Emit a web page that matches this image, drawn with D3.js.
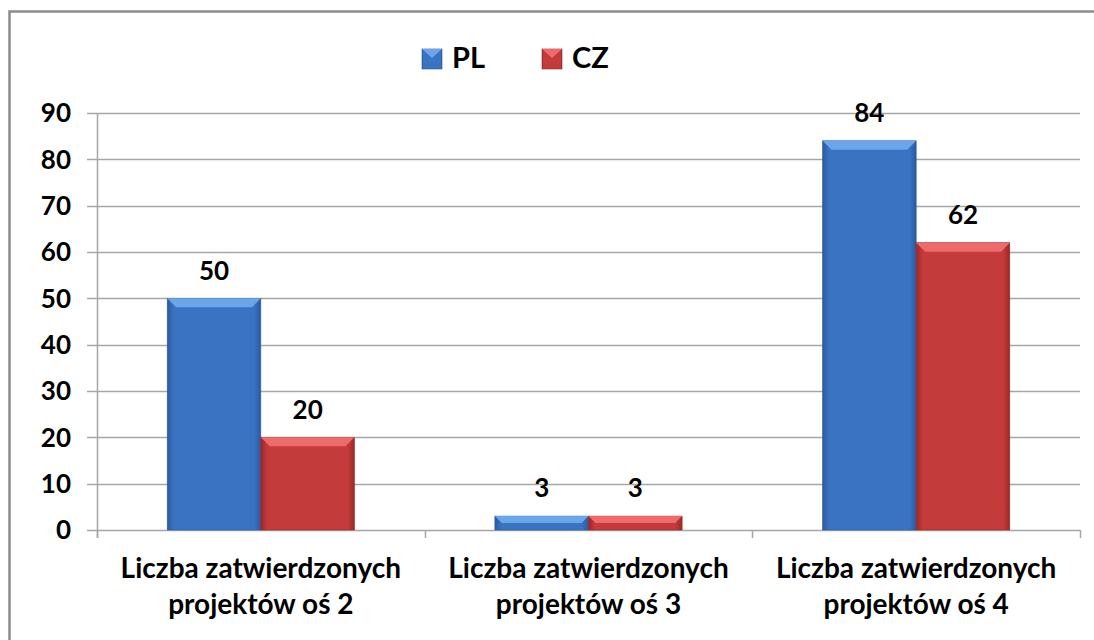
<!DOCTYPE html>
<html><head><meta charset="utf-8">
<script src="https://cdn.jsdelivr.net/npm/d3@7"></script>
<style>html,body{margin:0;background:#fff;overflow:hidden;} svg{display:block;} text{font-family:Lato,"Open Sans",sans-serif;font-weight:bold;}</style>
</head><body>
<svg id="c" width="1094" height="640"></svg>
<script>
const categories = [["Liczba zatwierdzonych","projektów oś 2"],["Liczba zatwierdzonych","projektów oś 3"],["Liczba zatwierdzonych","projektów oś 4"]];
const seriesNames = ["PL","CZ"];
const plValues = [50,3,84];
const czValues = [20,3,62];
const yTicks = [0,10,20,30,40,50,60,70,80,90];
const colors = {PL:["#6aa6ea","#3a73c1","#2a5a9e"], CZ:["#ef6a6a","#c43b3c","#9a2828"]};

const svg = d3.select("#c");
const defs = svg.append("defs");
seriesNames.forEach(s=>{
  const g = defs.append("linearGradient").attr("id","g"+s).attr("x1",0).attr("x2",1).attr("y1",0).attr("y2",0);
  g.append("stop").attr("offset","0%").attr("stop-color",colors[s][2]);
  g.append("stop").attr("offset","7%").attr("stop-color",colors[s][1]);
  g.append("stop").attr("offset","93%").attr("stop-color",colors[s][1]);
  g.append("stop").attr("offset","100%").attr("stop-color",colors[s][2]);
});

// outer border (left and top edges visible)
svg.append("path").attr("d","M9.5,640L9.5,11.5L1094,11.5").attr("fill","none").attr("stroke","#8c8c8c").attr("stroke-width",2.5);

const x0 = 97, x1 = 1080, yTop = 113, yBot = 530;
const x = d3.scaleBand().domain(d3.range(categories.length)).range([x0,x1]).paddingInner(0).paddingOuter(0);
const xs = d3.scaleBand().domain(seriesNames).range([0,x.bandwidth()]).paddingOuter(0.75).paddingInner(0);
const y = d3.scaleLinear().domain([0,90]).range([yBot,yTop]);

// gridlines
svg.append("g").selectAll("line").data(yTicks).join("line")
  .attr("x1",87).attr("x2",x1).attr("y1",d=>Math.round(y(d))+0.5).attr("y2",d=>Math.round(y(d))+0.5)
  .attr("stroke","#a6a6a6").attr("stroke-width",1.5);
// y axis line
svg.append("line").attr("x1",x0+0.5).attr("x2",x0+0.5).attr("y1",yTop).attr("y2",538).attr("stroke","#a6a6a6").attr("stroke-width",1.5);
// category ticks
svg.append("g").selectAll("line").data(d3.range(categories.length+1)).join("line")
  .attr("x1",i=>Math.round(x0+i*x.bandwidth())+0.5).attr("x2",i=>Math.round(x0+i*x.bandwidth())+0.5)
  .attr("y1",yBot).attr("y2",538).attr("stroke","#a6a6a6").attr("stroke-width",1.5);

// y labels
svg.append("g").selectAll("text").data(yTicks).join("text")
  .attr("x",71).attr("y",d=>y(d)).attr("dy","0.36em").attr("text-anchor","end")
  .attr("font-size",26).attr("fill","#000").text(d=>d);

const data = [];
categories.forEach((c,i)=>{
  data.push({i,s:"PL",v:plValues[i]});
  data.push({i,s:"CZ",v:czValues[i]});
});

const bars = svg.append("g").selectAll("g").data(data).join("g");
bars.append("rect")
  .attr("x",d=>x(d.i)+xs(d.s)).attr("width",xs.bandwidth())
  .attr("y",d=>y(d.v)).attr("height",d=>yBot-y(d.v))
  .attr("fill",d=>"url(#g"+d.s+")").attr("stroke",d=>colors[d.s][2]).attr("stroke-width",0.6);
// bevel top
bars.append("path").attr("d",d=>{
  const bx=x(d.i)+xs(d.s), bw=xs.bandwidth(), by=y(d.v), h=Math.min(9,(yBot-y(d.v))/2);
  return `M${bx},${by}L${bx+bw},${by}L${bx+bw-h},${by+h}L${bx+h},${by+h}Z`;
}).attr("fill",d=>colors[d.s][0]);

// value labels
svg.append("g").selectAll("text").data(data).join("text")
  .attr("x",d=>x(d.i)+xs(d.s)+xs.bandwidth()/2).attr("y",d=>y(d.v)-28).attr("dy","0.36em")
  .attr("text-anchor","middle").attr("font-size",26).attr("fill","#000").text(d=>d.v);

// x labels
const xl = svg.append("g").selectAll("text").data(categories).join("text")
  .attr("x",(d,i)=>x(i)+x.bandwidth()/2).attr("text-anchor","middle").attr("font-size",28).attr("fill","#000");
xl.append("tspan").attr("x",(d,i)=>x(i)+x.bandwidth()/2).attr("y",568).attr("dy","0.36em").text(d=>d[0]);
xl.append("tspan").attr("x",(d,i)=>x(i)+x.bandwidth()/2).attr("y",604).attr("dy","0.36em").text(d=>d[1]);

// legend
const lg = svg.append("g");
const legX = {PL:422, CZ:542};
seriesNames.forEach(s=>{
  lg.append("rect").attr("x",legX[s]).attr("y",49).attr("width",20).attr("height",20).attr("fill","url(#g"+s+")").attr("stroke",colors[s][2]).attr("stroke-width",0.6);
  lg.append("path").attr("d",`M${legX[s]},49L${legX[s]+20},49L${legX[s]+10},58Z`).attr("fill",colors[s][0]);
  lg.append("text").attr("x",legX[s]+30).attr("y",58).attr("dy","0.36em").attr("font-size",29).attr("fill","#000").text(s);
});
</script>
</body></html>
